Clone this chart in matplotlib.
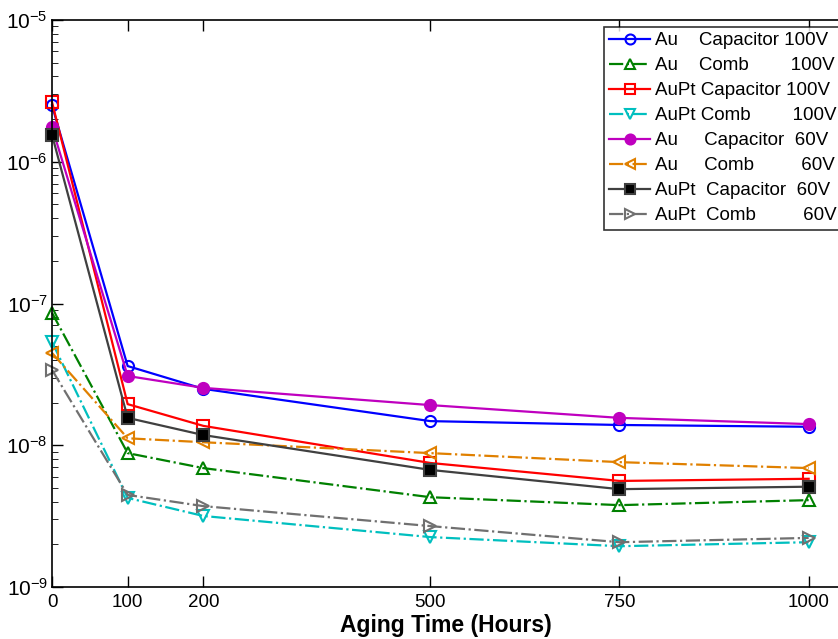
import matplotlib
matplotlib.use("Agg")
import matplotlib.pyplot as plt
from matplotlib.ticker import LogLocator, NullFormatter

hours = [0, 100, 200, 500, 750, 1000]

au_cap_100 = [2.5e-6, 3.62e-8, 2.5e-8, 1.48e-8, 1.39e-8, 1.35e-8]
au_comb_100 = [8.6e-8, 8.8e-9, 6.9e-9, 4.3e-9, 3.78e-9, 4.1e-9]
aupt_cap_100 = [2.64e-6, 1.95e-8, 1.37e-8, 7.5e-9, 5.6e-9, 5.8e-9]
aupt_comb_100 = [5.35e-8, 4.25e-9, 3.17e-9, 2.25e-9, 1.94e-9, 2.07e-9]
au_cap_60 = [1.76e-6, 3.08e-8, 2.54e-8, 1.92e-8, 1.56e-8, 1.41e-8]
au_comb_60 = [4.48e-8, 1.12e-8, 1.05e-8, 8.8e-9, 7.6e-9, 6.9e-9]
aupt_cap_60 = [1.55e-6, 1.56e-8, 1.18e-8, 6.7e-9, 4.9e-9, 5.1e-9]
aupt_comb_60 = [3.4e-8, 4.46e-9, 3.72e-9, 2.69e-9, 2.07e-9, 2.22e-9]

labels = [
    "Au    Capacitor 100V",
    "Au    Comb        100V",
    "AuPt Capacitor 100V",
    "AuPt Comb        100V",
    "Au     Capacitor  60V",
    "Au     Comb         60V",
    "AuPt  Capacitor  60V",
    "AuPt  Comb         60V",
]

series = [au_cap_100, au_comb_100, aupt_cap_100, aupt_comb_100,
          au_cap_60, au_comb_60, aupt_cap_60, aupt_comb_60]

styles = [
    dict(color="#0000ff", ls="-", marker="o", mfc="none", mec="#0000ff"),
    dict(color="#008000", ls="-.", marker="^", mfc="none", mec="#008000"),
    dict(color="#ff0000", ls="-", marker="s", mfc="none", mec="#ff0000"),
    dict(color="#00bfbf", ls="-.", marker="v", mfc="none", mec="#00bfbf"),
    dict(color="#bf00bf", ls="-", marker="o", mfc="#bf00bf", mec="#bf00bf"),
    dict(color="#e08000", ls="-.", marker="<", mfc="none", mec="#e08000"),
    dict(color="#404040", ls="-", marker="s", mfc="black", mec="#404040"),
    dict(color="#707070", ls="-.", marker=">", mfc="none", mec="#707070"),
]

plt.rcParams["font.family"] = ["Liberation Sans", "DejaVu Sans"]
plt.rcParams["mathtext.fontset"] = "custom"
plt.rcParams["mathtext.rm"] = "Liberation Sans"
plt.rcParams["mathtext.it"] = "Liberation Sans:italic"
plt.rcParams["mathtext.bf"] = "Liberation Sans:bold"
plt.rcParams["axes.unicode_minus"] = False

fig = plt.figure(figsize=(8.38, 6.39), dpi=100)
ax = fig.add_axes([52 / 838, 1 - 587 / 639, 1.0 - 52 / 838 + 0.002, (587 - 20) / 639])

for y, st, lab in zip(series, styles, labels):
    ax.plot(hours, y, label=lab, lw=1.6, ms=8, mew=1.5, clip_on=False, **st)

ax.set_yscale("log")
ax.set_ylim(1e-9, 1e-5)
ax.set_xlim(0, 1041)
ax.set_xticks(hours)
ax.set_xticklabels([str(h) for h in hours], fontsize=13.5)
ax.yaxis.set_major_locator(LogLocator(base=10, numticks=10))
ax.yaxis.set_minor_locator(LogLocator(base=10, subs=range(2, 10), numticks=20))
ax.yaxis.set_minor_formatter(NullFormatter())
ax.tick_params(axis="both", which="both", direction="in", top=True, right=False)
ax.tick_params(axis="both", which="major", length=8, width=1)
ax.tick_params(axis="y", which="minor", length=4)
ax.tick_params(axis="y", labelsize=15, pad=3)
ax.tick_params(axis="x", pad=5)
ax.spines["right"].set_visible(False)
for s in ("left", "bottom", "top"):
    ax.spines[s].set_linewidth(1.2)

ax.set_xlabel("Aging Time (Hours)", fontsize=16.5, fontweight="bold", labelpad=2)

leg = ax.legend(loc="upper right", bbox_to_anchor=(1.012, 1.0), fontsize=13.5,
                frameon=True, fancybox=False, edgecolor="black",
                handlelength=2.15, handletextpad=0.3, labelspacing=0.42,
                borderpad=0.3, borderaxespad=0.35, markerscale=0.9)
leg.get_frame().set_linewidth(1.2)

fig.savefig("out.png", dpi=100)
